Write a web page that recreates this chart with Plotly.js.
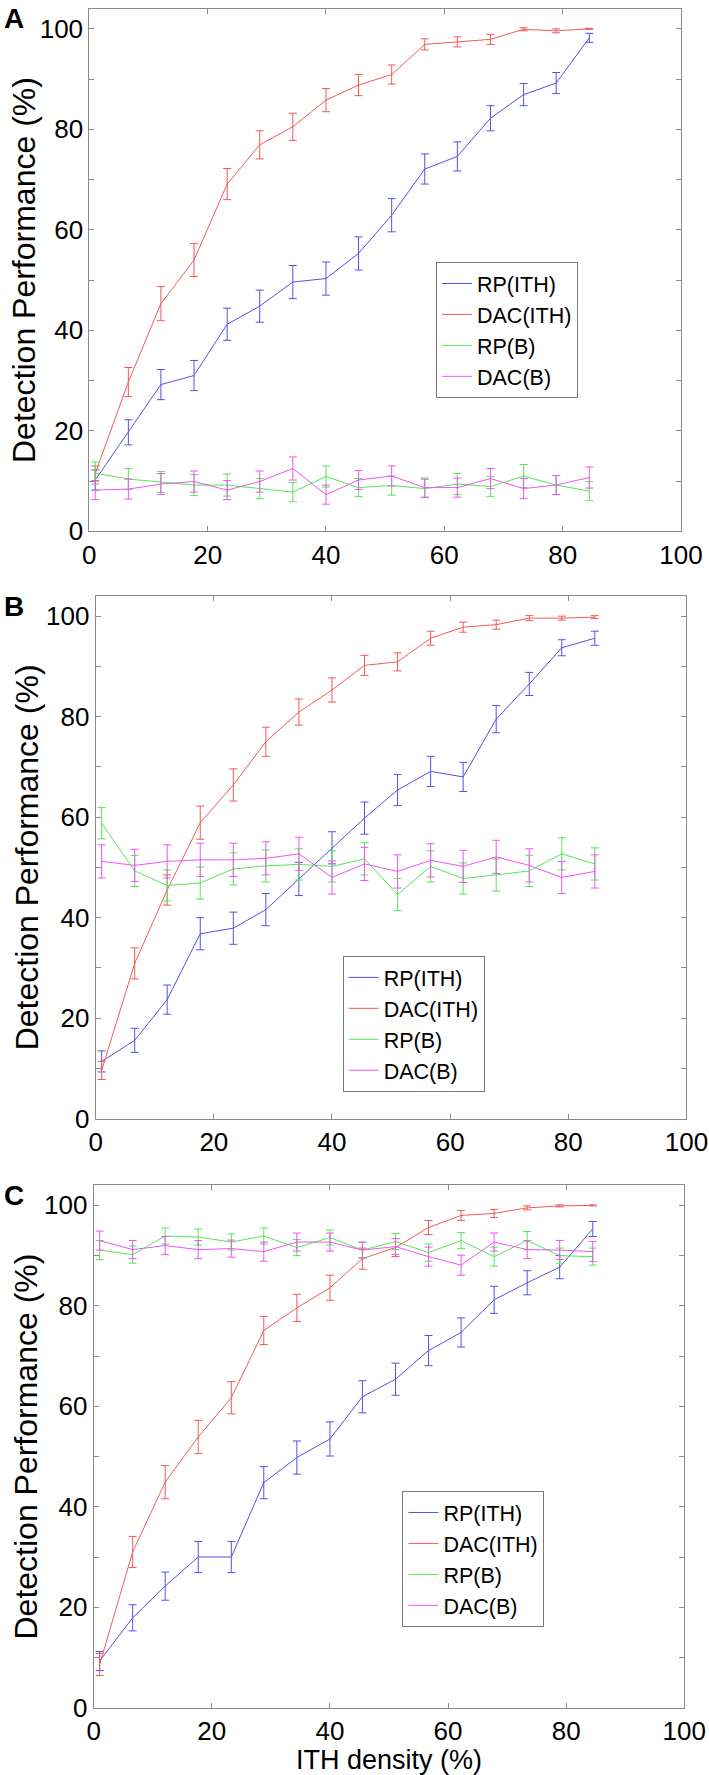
<!DOCTYPE html>
<html>
<head>
<meta charset="utf-8">
<script src="https://cdn.plot.ly/plotly-3.0.1.min.js"></script>
<style>
  html, body { margin: 0; padding: 0; background: #ffffff; }
  #chart { width: 709px; height: 1775px; }
</style>
</head>
<body>
<div id="chart"></div>
<script>
// ---- data ----
const ithDensity = [1.0, 6.6, 12.1, 17.7, 23.3, 28.8, 34.4, 40.0, 45.5, 51.1, 56.7, 62.2, 67.8, 73.4, 78.9, 84.5];

const seriesNames = ["RP(ITH)", "DAC(ITH)", "RP(B)", "DAC(B)"];
const panelLabels = ["A", "B", "C"];
const yTitle = "Detection Performance (%)";
const xTitle = "ITH density (%)";

const xTickVals = [0, 20, 40, 60, 80, 100];
const xTickText = ["0", "20", "40", "60", "80", "100"];
const yTickVals = [0, 10, 20, 30, 40, 50, 60, 70, 80, 90, 100];
const yTickText = ["0", "", "20", "", "40", "", "60", "", "80", "", "100"];

// Panel A
const aRpIth     = [10.2, 19.7, 29.2, 31.0, 41.2, 44.8, 49.6, 50.3, 55.3, 62.9, 72.1, 74.6, 82.2, 86.9, 89.2, 98.2];
const aRpIthErr  = [2.0, 2.5, 3.0, 3.0, 3.2, 3.2, 3.3, 3.3, 3.3, 3.3, 3.0, 2.9, 2.5, 2.2, 2.1, 0.9];
const aDacIth    = [11.5, 29.7, 45.3, 54.0, 69.1, 76.9, 80.5, 85.8, 88.8, 90.9, 96.9, 97.4, 97.9, 99.9, 99.6, 100];
const aDacIthErr = [1.5, 2.9, 3.4, 3.3, 3.1, 2.8, 2.7, 2.3, 2.1, 1.9, 1.1, 1.0, 1.0, 0.3, 0.4, 0.1];
const aRpB       = [11.6, 10.4, 9.8, 9.2, 9.2, 8.5, 7.8, 10.9, 8.7, 9.1, 8.5, 9.4, 8.9, 11.0, 9.2, 8.0];
const aRpBErr    = [2.2, 2.1, 2.1, 2.1, 2.2, 2.0, 1.9, 2.1, 1.8, 1.9, 1.8, 2.1, 2.0, 2.3, 1.9, 1.9];
const aDacB      = [8.2, 8.4, 9.4, 9.9, 8.2, 9.9, 12.5, 7.3, 10.2, 11.0, 8.7, 8.7, 10.5, 8.5, 9.2, 10.7];
const aDacBErr   = [1.9, 2.0, 2.1, 2.1, 1.9, 2.1, 2.3, 1.9, 1.9, 2.0, 1.9, 1.9, 2.0, 2.0, 1.9, 2.1];

// Panel B
const bRpIth     = [11.4, 15.6, 23.7, 36.8, 37.9, 41.6, 47.7, 53.9, 59.8, 65.4, 69.1, 68.0, 79.5, 86.5, 93.7, 95.6];
const bRpIthErr  = [2.1, 2.4, 2.9, 3.2, 3.2, 3.2, 3.3, 3.2, 3.2, 3.1, 3.0, 2.9, 2.7, 2.3, 1.6, 1.4];
const bDacIth    = [9.6, 30.9, 45.5, 58.9, 66.4, 75.0, 80.9, 85.3, 90.2, 90.9, 95.6, 97.8, 98.3, 99.6, 99.6, 99.8];
const bDacIthErr = [1.8, 3.1, 3.0, 3.3, 3.2, 2.9, 2.6, 2.4, 2.0, 1.8, 1.4, 1.0, 0.9, 0.5, 0.4, 0.3];
const bRpB       = [58.8, 49.3, 46.4, 46.9, 49.7, 50.3, 50.6, 50.2, 51.7, 44.6, 50.2, 47.8, 48.5, 49.3, 52.7, 50.7];
const bRpBErr    = [3.1, 3.1, 3.1, 3.2, 3.2, 3.2, 3.1, 3.1, 3.2, 3.2, 3.1, 3.1, 3.2, 3.1, 3.2, 3.2];
const bDacB      = [51.2, 50.4, 51.2, 51.5, 51.5, 51.8, 52.7, 48.0, 50.7, 49.2, 51.4, 50.2, 52.1, 50.4, 48.0, 49.2];
const bDacBErr   = [3.3, 3.2, 3.3, 3.3, 3.3, 3.3, 3.3, 3.3, 3.3, 3.3, 3.3, 3.2, 3.3, 3.3, 3.2, 3.3];

// Panel C
const cRpIth     = [9.3, 17.9, 24.2, 30.0, 30.0, 44.8, 49.8, 53.5, 61.9, 65.4, 71.1, 74.7, 81.2, 84.6, 87.7, 95.3];
const cRpIthErr  = [1.9, 2.6, 2.8, 3.1, 3.1, 3.2, 3.3, 3.4, 3.2, 3.2, 3.0, 2.9, 2.7, 2.4, 2.3, 1.5];
const cDacIth    = [8.6, 31.0, 44.9, 53.9, 61.7, 75.1, 79.6, 83.6, 89.4, 91.6, 95.6, 98.0, 98.4, 99.5, 99.9, 100];
const cDacIthErr = [2.2, 3.1, 3.3, 3.3, 3.2, 2.8, 2.7, 2.5, 2.1, 1.8, 1.4, 1.0, 0.8, 0.4, 0.2, 0.1];
const cRpB       = [91.1, 90.2, 93.9, 93.7, 92.7, 93.9, 91.6, 93.6, 91.1, 92.8, 90.6, 93.0, 89.8, 93.0, 90.0, 89.8];
const cRpBErr    = [1.9, 1.7, 1.6, 1.6, 1.6, 1.6, 1.6, 1.5, 1.5, 1.6, 1.7, 1.6, 1.9, 1.8, 1.5, 1.7];
const cDacB      = [93.0, 91.2, 92.0, 91.2, 91.4, 90.8, 92.7, 92.7, 91.1, 91.8, 89.8, 88.1, 92.7, 91.2, 91.1, 90.8];
const cDacBErr   = [1.9, 1.8, 1.8, 1.8, 1.7, 1.9, 1.8, 1.8, 1.6, 1.6, 1.9, 2.0, 1.8, 1.8, 1.9, 2.0];

// ---- styling ----
const FONT = "Liberation Sans, Arial, Helvetica, sans-serif";
const colors = ["#5252e6", "#f05a5a", "#55e655", "#ee55ee"];
const axisGray = "#8a8a8a";

const panels = [
  { means: [aRpIth, aDacIth, aRpB, aDacB], errs: [aRpIthErr, aDacIthErr, aRpBErr, aDacBErr] },
  { means: [bRpIth, bDacIth, bRpB, bDacB], errs: [bRpIthErr, bDacIthErr, bRpBErr, bDacBErr] },
  { means: [cRpIth, cDacIth, cRpB, cDacB], errs: [cRpIthErr, cDacIthErr, cRpBErr, cDacBErr] }
];

const W = 709, H = 1775;
// pixel boxes of plot areas [left, right, top, bottom]
const boxes = [
  [89.3, 681.0, 8.7, 531.3],
  [95.7, 686.4, 596.0, 1118.7],
  [93.7, 684.3, 1185.3, 1707.7]
];
const legendPos = [
  [436, 262],
  [342.7, 955.9],
  [402.4, 1491]
];
const yTitleX = [24, 27, 26];

const traces = [];
panels.forEach((p, pi) => {
  const sfx = pi === 0 ? "" : String(pi + 1);
  p.means.forEach((m, si) => {
    traces.push({
      type: "scatter",
      mode: "lines",
      x: ithDensity,
      y: m,
      name: seriesNames[si],
      xaxis: "x" + sfx,
      yaxis: "y" + sfx,
      legend: "legend" + sfx,
      line: { color: colors[si], width: 1 },
      error_y: { type: "data", array: p.errs[si], visible: true, color: colors[si], thickness: 1, width: 4 },
      hoverinfo: "skip"
    });
  });
});

const layout = {
  width: W,
  height: H,
  margin: { l: 0, r: 0, t: 0, b: 0 },
  paper_bgcolor: "#ffffff",
  plot_bgcolor: "#ffffff",
  font: { family: FONT, size: 26, color: "#000000" },
  showlegend: true,
  annotations: []
};

boxes.forEach((b, pi) => {
  const sfx = pi === 0 ? "" : String(pi + 1);
  const xd = [b[0] / W, b[1] / W];
  const yd = [1 - b[3] / H, 1 - b[2] / H];
  const common = {
    showline: true, mirror: "ticks", linecolor: axisGray, linewidth: 1,
    ticks: "inside", ticklen: 5, tickcolor: axisGray, tickwidth: 1,
    showgrid: false, zeroline: false,
    tickfont: { family: FONT, size: 26, color: "#000000" }
  };
  layout["xaxis" + sfx] = Object.assign({}, common, {
    domain: xd, anchor: "y" + sfx, range: [0, 100],
    tickmode: "array", tickvals: xTickVals, ticktext: xTickText
  });
  if (pi === 2) {
    layout["xaxis" + sfx].title = { text: xTitle, font: { family: FONT, size: 27, color: "#000" }, standoff: 6 };
  }
  layout["yaxis" + sfx] = Object.assign({}, common, {
    domain: yd, anchor: "x" + sfx, range: [0, 104],
    tickmode: "array", tickvals: yTickVals, ticktext: yTickText
  });
  const lp = legendPos[pi];
  layout["legend" + sfx] = {
    x: lp[0] / W, y: 1 - lp[1] / H, xanchor: "left", yanchor: "top",
    xref: "paper", yref: "paper",
    bgcolor: "#ffffff", bordercolor: "#7a7a7a", borderwidth: 1,
    font: { family: FONT, size: 21.5, color: "#000" },
    tracegroupgap: 0
  };
  // y-axis title (rotated text)
  layout.annotations.push({
    text: yTitle,
    xref: "paper", yref: "paper",
    x: yTitleX[pi] / W, y: (yd[0] + yd[1]) / 2,
    xanchor: "center", yanchor: "middle",
    textangle: -90,
    showarrow: false,
    font: { family: FONT, size: 32, color: "#000" }
  });
  // panel letter
  layout.annotations.push({
    text: "<b>" + panelLabels[pi] + "</b>",
    xref: "paper", yref: "paper",
    x: 2 / W, y: 1 - (b[2] + 10) / H,
    xanchor: "left", yanchor: "middle",
    showarrow: false,
    font: { family: FONT, size: 28, color: "#000" }
  });
});

Plotly.newPlot("chart", traces, layout, { staticPlot: true, displayModeBar: false });
</script>
</body>
</html>
